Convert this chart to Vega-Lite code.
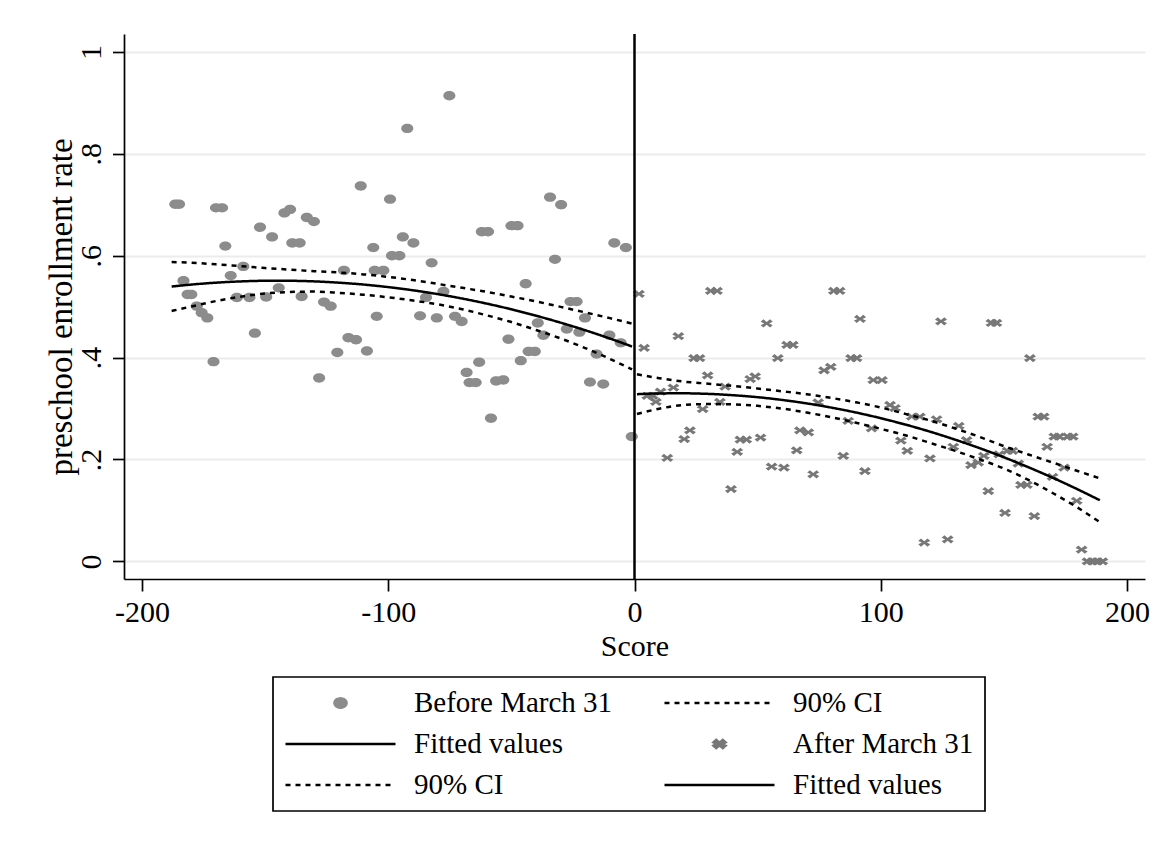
{
  "$schema": "https://vega.github.io/schema/vega-lite/v6.json",
  "autosize": {"type": "none"},
  "padding": {"left": 124, "top": 34, "right": 11, "bottom": 270},
  "width": 1021,
  "height": 545,
  "background": "white",
  "datasets": {
    "pts": [
      {"series":"p1","x":-186.5,"y":0.701},{"series":"p1","x":-185,"y":0.701},
      {"series":"p1","x":-170,"y":0.694},{"series":"p1","x":-167.5,"y":0.694},
      {"series":"p1","x":-111.2,"y":0.737},{"series":"p1","x":-152.1,"y":0.656},
      {"series":"p1","x":-147.2,"y":0.637},{"series":"p1","x":-166.2,"y":0.619},
      {"series":"p1","x":-142.2,"y":0.684},{"series":"p1","x":-139.9,"y":0.691},
      {"series":"p1","x":-133.1,"y":0.675},{"series":"p1","x":-130.2,"y":0.667},
      {"series":"p1","x":-139,"y":0.625},{"series":"p1","x":-136,"y":0.625},
      {"series":"p1","x":-106.1,"y":0.616},{"series":"p1","x":-158.9,"y":0.579},
      {"series":"p1","x":-164,"y":0.561},{"series":"p1","x":-118,"y":0.571},
      {"series":"p1","x":-183.2,"y":0.551},{"series":"p1","x":-181.5,"y":0.524},
      {"series":"p1","x":-180,"y":0.524},{"series":"p1","x":-177.8,"y":0.501},
      {"series":"p1","x":-175.8,"y":0.488},{"series":"p1","x":-173.5,"y":0.478},
      {"series":"p1","x":-161.5,"y":0.518},{"series":"p1","x":-156.4,"y":0.518},
      {"series":"p1","x":-149.6,"y":0.519},{"series":"p1","x":-144.5,"y":0.537},
      {"series":"p1","x":-135.2,"y":0.52},{"series":"p1","x":-126.1,"y":0.509},
      {"series":"p1","x":-123.4,"y":0.501},{"series":"p1","x":-154.2,"y":0.448},
      {"series":"p1","x":-116.2,"y":0.439},{"series":"p1","x":-113.1,"y":0.435},
      {"series":"p1","x":-120.7,"y":0.41},{"series":"p1","x":-108.7,"y":0.413},
      {"series":"p1","x":-104.7,"y":0.481},{"series":"p1","x":-171,"y":0.392},
      {"series":"p1","x":-128.1,"y":0.36},{"series":"p1","x":-105.5,"y":0.571},
      {"series":"p1","x":-75.2,"y":0.914},{"series":"p1","x":-92.3,"y":0.85},
      {"series":"p1","x":-99.3,"y":0.711},{"series":"p1","x":-34.3,"y":0.715},
      {"series":"p1","x":-29.8,"y":0.7},{"series":"p1","x":-50,"y":0.659},
      {"series":"p1","x":-47.5,"y":0.659},{"series":"p1","x":-62,"y":0.647},
      {"series":"p1","x":-59.5,"y":0.647},{"series":"p1","x":-94.1,"y":0.637},
      {"series":"p1","x":-89.8,"y":0.625},{"series":"p1","x":-98.5,"y":0.6},
      {"series":"p1","x":-95.5,"y":0.6},{"series":"p1","x":-8.2,"y":0.625},
      {"series":"p1","x":-3.5,"y":0.616},{"series":"p1","x":-82.4,"y":0.586},
      {"series":"p1","x":-32.3,"y":0.593},{"series":"p1","x":-102,"y":0.571},
      {"series":"p1","x":-44.2,"y":0.545},{"series":"p1","x":-77.6,"y":0.53},
      {"series":"p1","x":-84.7,"y":0.518},{"series":"p1","x":-26,"y":0.51},
      {"series":"p1","x":-23.5,"y":0.51},{"series":"p1","x":-87.1,"y":0.482},
      {"series":"p1","x":-80.3,"y":0.478},{"series":"p1","x":-72.9,"y":0.481},
      {"series":"p1","x":-70.2,"y":0.471},{"series":"p1","x":-20.1,"y":0.478},
      {"series":"p1","x":-39.3,"y":0.468},{"series":"p1","x":-27.5,"y":0.456},
      {"series":"p1","x":-22.4,"y":0.45},{"series":"p1","x":-37,"y":0.444},
      {"series":"p1","x":-10.2,"y":0.444},{"series":"p1","x":-5.6,"y":0.429},
      {"series":"p1","x":-15.4,"y":0.407},{"series":"p1","x":-51.2,"y":0.436},
      {"series":"p1","x":-43,"y":0.412},{"series":"p1","x":-40.5,"y":0.412},
      {"series":"p1","x":-46.2,"y":0.394},{"series":"p1","x":-63.1,"y":0.391},
      {"series":"p1","x":-68.2,"y":0.371},{"series":"p1","x":-67,"y":0.351},
      {"series":"p1","x":-64.5,"y":0.351},{"series":"p1","x":-56.2,"y":0.354},
      {"series":"p1","x":-53.3,"y":0.356},{"series":"p1","x":-18.1,"y":0.352},
      {"series":"p1","x":-12.7,"y":0.348},{"series":"p1","x":-58.3,"y":0.281},
      {"series":"p1","x":-1.1,"y":0.245},
      {"series":"p2","x":1.8,"y":0.525},{"series":"p2","x":31,"y":0.531},
      {"series":"p2","x":33.5,"y":0.531},{"series":"p2","x":81,"y":0.531},
      {"series":"p2","x":83.3,"y":0.531},{"series":"p2","x":53.7,"y":0.467},
      {"series":"p2","x":91.6,"y":0.476},{"series":"p2","x":17.8,"y":0.442},
      {"series":"p2","x":62,"y":0.425},{"series":"p2","x":64.3,"y":0.425},
      {"series":"p2","x":3.9,"y":0.419},{"series":"p2","x":24.2,"y":0.399},
      {"series":"p2","x":26.4,"y":0.399},{"series":"p2","x":58.2,"y":0.399},
      {"series":"p2","x":88,"y":0.399},{"series":"p2","x":90.2,"y":0.399},
      {"series":"p2","x":29.7,"y":0.365},{"series":"p2","x":77,"y":0.375},
      {"series":"p2","x":79.7,"y":0.382},{"series":"p2","x":47,"y":0.358},
      {"series":"p2","x":49,"y":0.363},{"series":"p2","x":97,"y":0.356},
      {"series":"p2","x":100.5,"y":0.356},{"series":"p2","x":15.8,"y":0.341},
      {"series":"p2","x":10.6,"y":0.333},{"series":"p2","x":5.2,"y":0.325},
      {"series":"p2","x":7.4,"y":0.325},{"series":"p2","x":8.7,"y":0.313},
      {"series":"p2","x":36.8,"y":0.343},{"series":"p2","x":34.7,"y":0.313},
      {"series":"p2","x":27.7,"y":0.299},{"series":"p2","x":74.6,"y":0.312},
      {"series":"p2","x":86.8,"y":0.276},{"series":"p2","x":96.3,"y":0.261},
      {"series":"p2","x":22.5,"y":0.257},{"series":"p2","x":20.2,"y":0.24},
      {"series":"p2","x":67.2,"y":0.257},{"series":"p2","x":70.6,"y":0.253},
      {"series":"p2","x":43,"y":0.239},{"series":"p2","x":45.4,"y":0.239},
      {"series":"p2","x":51.2,"y":0.243},{"series":"p2","x":41.7,"y":0.215},
      {"series":"p2","x":65.9,"y":0.218},{"series":"p2","x":13.3,"y":0.203},
      {"series":"p2","x":84.8,"y":0.207},{"series":"p2","x":55.7,"y":0.186},
      {"series":"p2","x":60.7,"y":0.184},{"series":"p2","x":72.6,"y":0.171},
      {"series":"p2","x":93.6,"y":0.177},{"series":"p2","x":39.2,"y":0.142},
      {"series":"p2","x":124.5,"y":0.471},{"series":"p2","x":145,"y":0.468},
      {"series":"p2","x":147,"y":0.468},{"series":"p2","x":160.6,"y":0.399},
      {"series":"p2","x":103.8,"y":0.307},{"series":"p2","x":105.8,"y":0.301},
      {"series":"p2","x":112.6,"y":0.284},{"series":"p2","x":115.9,"y":0.284},
      {"series":"p2","x":122.7,"y":0.279},{"series":"p2","x":108.2,"y":0.237},
      {"series":"p2","x":110.8,"y":0.217},{"series":"p2","x":120,"y":0.202},
      {"series":"p2","x":131.7,"y":0.266},{"series":"p2","x":134.9,"y":0.238},
      {"series":"p2","x":129.5,"y":0.225},{"series":"p2","x":136.7,"y":0.189},
      {"series":"p2","x":139.6,"y":0.194},{"series":"p2","x":141.9,"y":0.207},
      {"series":"p2","x":148.1,"y":0.21},{"series":"p2","x":151.5,"y":0.217},
      {"series":"p2","x":153.5,"y":0.217},{"series":"p2","x":155.9,"y":0.192},
      {"series":"p2","x":157,"y":0.15},{"series":"p2","x":159.4,"y":0.15},
      {"series":"p2","x":143.7,"y":0.138},{"series":"p2","x":150.5,"y":0.095},
      {"series":"p2","x":162.4,"y":0.089},{"series":"p2","x":164,"y":0.284},
      {"series":"p2","x":166.2,"y":0.284},{"series":"p2","x":167.6,"y":0.225},
      {"series":"p2","x":170.5,"y":0.245},{"series":"p2","x":172.5,"y":0.245},
      {"series":"p2","x":176,"y":0.245},{"series":"p2","x":178,"y":0.245},
      {"series":"p2","x":174.5,"y":0.184},{"series":"p2","x":169.8,"y":0.166},
      {"series":"p2","x":179.6,"y":0.119},{"series":"p2","x":181.6,"y":0.023},
      {"series":"p2","x":184,"y":0},{"series":"p2","x":186,"y":0},
      {"series":"p2","x":188,"y":0},{"series":"p2","x":190,"y":0},
      {"series":"p2","x":117.7,"y":0.037},{"series":"p2","x":127.2,"y":0.043}
    ],
    "lines": [
      {"series":"f1","part":"fit","x":-188,"y":0.5395},{"series":"f1","part":"fit","x":-180,"y":0.5434},
      {"series":"f1","part":"fit","x":-170,"y":0.5471},{"series":"f1","part":"fit","x":-160,"y":0.5496},
      {"series":"f1","part":"fit","x":-150,"y":0.5508},{"series":"f1","part":"fit","x":-140,"y":0.5508},
      {"series":"f1","part":"fit","x":-130,"y":0.5496},{"series":"f1","part":"fit","x":-120,"y":0.5471},
      {"series":"f1","part":"fit","x":-110,"y":0.5434},{"series":"f1","part":"fit","x":-100,"y":0.5384},
      {"series":"f1","part":"fit","x":-90,"y":0.5322},{"series":"f1","part":"fit","x":-80,"y":0.5247},
      {"series":"f1","part":"fit","x":-70,"y":0.516},{"series":"f1","part":"fit","x":-60,"y":0.506},
      {"series":"f1","part":"fit","x":-50,"y":0.4948},{"series":"f1","part":"fit","x":-40,"y":0.4823},
      {"series":"f1","part":"fit","x":-30,"y":0.4686},{"series":"f1","part":"fit","x":-20,"y":0.4537},
      {"series":"f1","part":"fit","x":-10,"y":0.4375},{"series":"f1","part":"fit","x":-1,"y":0.4218},
      {"series":"c1","part":"upper","x":-188,"y":0.5875},{"series":"c1","part":"upper","x":-180,"y":0.5864},
      {"series":"c1","part":"upper","x":-170,"y":0.5831},{"series":"c1","part":"upper","x":-160,"y":0.5796},
      {"series":"c1","part":"upper","x":-150,"y":0.5758},{"series":"c1","part":"upper","x":-140,"y":0.5728},
      {"series":"c1","part":"upper","x":-130,"y":0.5696},{"series":"c1","part":"upper","x":-120,"y":0.5671},
      {"series":"c1","part":"upper","x":-110,"y":0.5634},{"series":"c1","part":"upper","x":-100,"y":0.5584},
      {"series":"c1","part":"upper","x":-90,"y":0.5522},{"series":"c1","part":"upper","x":-80,"y":0.5447},
      {"series":"c1","part":"upper","x":-70,"y":0.537},{"series":"c1","part":"upper","x":-60,"y":0.529},
      {"series":"c1","part":"upper","x":-50,"y":0.5198},{"series":"c1","part":"upper","x":-40,"y":0.5103},
      {"series":"c1","part":"upper","x":-30,"y":0.4996},{"series":"c1","part":"upper","x":-20,"y":0.4887},
      {"series":"c1","part":"upper","x":-10,"y":0.4775},{"series":"c1","part":"upper","x":-1,"y":0.4668},
      {"series":"c1","part":"lower","x":-188,"y":0.4915},{"series":"c1","part":"lower","x":-180,"y":0.5004},
      {"series":"c1","part":"lower","x":-170,"y":0.5111},{"series":"c1","part":"lower","x":-160,"y":0.5196},
      {"series":"c1","part":"lower","x":-150,"y":0.5258},{"series":"c1","part":"lower","x":-140,"y":0.5288},
      {"series":"c1","part":"lower","x":-130,"y":0.5296},{"series":"c1","part":"lower","x":-120,"y":0.5271},
      {"series":"c1","part":"lower","x":-110,"y":0.5234},{"series":"c1","part":"lower","x":-100,"y":0.5184},
      {"series":"c1","part":"lower","x":-90,"y":0.5122},{"series":"c1","part":"lower","x":-80,"y":0.5047},
      {"series":"c1","part":"lower","x":-70,"y":0.495},{"series":"c1","part":"lower","x":-60,"y":0.483},
      {"series":"c1","part":"lower","x":-50,"y":0.4698},{"series":"c1","part":"lower","x":-40,"y":0.4543},
      {"series":"c1","part":"lower","x":-30,"y":0.4376},{"series":"c1","part":"lower","x":-20,"y":0.4187},
      {"series":"c1","part":"lower","x":-10,"y":0.3975},{"series":"c1","part":"lower","x":-1,"y":0.3768},
      {"series":"f2","part":"fit","x":1,"y":0.3282},{"series":"f2","part":"fit","x":10,"y":0.3297},
      {"series":"f2","part":"fit","x":20,"y":0.3299},{"series":"f2","part":"fit","x":30,"y":0.3288},
      {"series":"f2","part":"fit","x":40,"y":0.3262},{"series":"f2","part":"fit","x":50,"y":0.3223},
      {"series":"f2","part":"fit","x":60,"y":0.3169},{"series":"f2","part":"fit","x":70,"y":0.3101},
      {"series":"f2","part":"fit","x":80,"y":0.3018},{"series":"f2","part":"fit","x":90,"y":0.2922},
      {"series":"f2","part":"fit","x":100,"y":0.2811},{"series":"f2","part":"fit","x":110,"y":0.2686},
      {"series":"f2","part":"fit","x":120,"y":0.2547},{"series":"f2","part":"fit","x":130,"y":0.2393},
      {"series":"f2","part":"fit","x":140,"y":0.2226},{"series":"f2","part":"fit","x":150,"y":0.2044},
      {"series":"f2","part":"fit","x":160,"y":0.1848},{"series":"f2","part":"fit","x":170,"y":0.1638},
      {"series":"f2","part":"fit","x":180,"y":0.1414},{"series":"f2","part":"fit","x":189,"y":0.12},
      {"series":"c2","part":"upper","x":1,"y":0.3672},{"series":"c2","part":"upper","x":10,"y":0.3597},
      {"series":"c2","part":"upper","x":20,"y":0.3529},{"series":"c2","part":"upper","x":30,"y":0.3488},
      {"series":"c2","part":"upper","x":40,"y":0.3442},{"series":"c2","part":"upper","x":50,"y":0.3393},
      {"series":"c2","part":"upper","x":60,"y":0.3339},{"series":"c2","part":"upper","x":70,"y":0.3281},
      {"series":"c2","part":"upper","x":80,"y":0.3208},{"series":"c2","part":"upper","x":90,"y":0.3122},
      {"series":"c2","part":"upper","x":100,"y":0.3021},{"series":"c2","part":"upper","x":110,"y":0.2896},
      {"series":"c2","part":"upper","x":120,"y":0.2767},{"series":"c2","part":"upper","x":130,"y":0.2613},
      {"series":"c2","part":"upper","x":140,"y":0.2446},{"series":"c2","part":"upper","x":150,"y":0.2264},
      {"series":"c2","part":"upper","x":160,"y":0.2098},{"series":"c2","part":"upper","x":170,"y":0.1938},
      {"series":"c2","part":"upper","x":180,"y":0.1774},{"series":"c2","part":"upper","x":189,"y":0.163},
      {"series":"c2","part":"lower","x":1,"y":0.2892},{"series":"c2","part":"lower","x":10,"y":0.2997},
      {"series":"c2","part":"lower","x":20,"y":0.3069},{"series":"c2","part":"lower","x":30,"y":0.3088},
      {"series":"c2","part":"lower","x":40,"y":0.3082},{"series":"c2","part":"lower","x":50,"y":0.3053},
      {"series":"c2","part":"lower","x":60,"y":0.2999},{"series":"c2","part":"lower","x":70,"y":0.2921},
      {"series":"c2","part":"lower","x":80,"y":0.2828},{"series":"c2","part":"lower","x":90,"y":0.2722},
      {"series":"c2","part":"lower","x":100,"y":0.2601},{"series":"c2","part":"lower","x":110,"y":0.2476},
      {"series":"c2","part":"lower","x":120,"y":0.2327},{"series":"c2","part":"lower","x":130,"y":0.2173},
      {"series":"c2","part":"lower","x":140,"y":0.2006},{"series":"c2","part":"lower","x":150,"y":0.1824},
      {"series":"c2","part":"lower","x":160,"y":0.1598},{"series":"c2","part":"lower","x":170,"y":0.1338},
      {"series":"c2","part":"lower","x":180,"y":0.1054},{"series":"c2","part":"lower","x":189,"y":0.077}
    ]
  },
  "layer": [
    {
      "data": {"name": "pts"},
      "mark": {"type": "point", "filled": true, "size": 12100, "opacity": 1, "strokeWidth": 0},
      "encoding": {
        "x": {"field": "x", "type": "quantitative", "scale": {"domain": [-207.35, 207.35], "nice": false, "zero": false},
          "axis": {"values": [-200, -100, 0, 100, 200], "title": "Score", "labelExpr": "'' + datum.value", "grid": false}},
        "y": {"field": "y", "type": "quantitative", "scale": {"domain": [-0.0346, 1.0353], "nice": false, "zero": false},
          "axis": {"values": [0, 0.2, 0.4, 0.6, 0.8, 1], "title": "preschool enrollment rate", "grid": true,
            "labelExpr": "datum.value == 0 ? '0' : datum.value == 1 ? '1' : '.' + round(datum.value * 10)",
            "labelAngle": -90, "labelAlign": "center", "labelBaseline": "bottom", "tickSize": 11.5,
            "titleFontSize": 33, "titlePadding": -2}},
        "color": {"field": "series", "type": "nominal",
          "scale": {"domain": ["p1","f1","c1","c2","p2","f2"], "range": ["#8c8c8c","#000000","#000000","#000000","#777777","#000000"]},
          "legend": {"orient": "none", "legendX": 149, "legendY": 643, "columns": 2, "title": null,
            "labelExpr": "datum.label == 'p1' ? 'Before March 31' : datum.label == 'p2' ? 'After March 31' : (datum.label == 'c1' || datum.label == 'c2') ? '90% CI' : 'Fitted values'"}},
        "shape": {"field": "series", "type": "nominal",
          "scale": {"domain": ["p1","f1","c1","c2","p2","f2"],
            "range": ["M-0.11,0A0.11,0.085 0 1,0 0.11,0A0.11,0.085 0 1,0 -0.11,0Z", "M-1,0H1", "M-1,0H1", "M-1,0H1",
              "M-0.11,-0.03L-0.06,-0.075L0,-0.025L0.06,-0.075L0.11,-0.03L0.045,0L0.11,0.03L0.06,0.075L0,0.025L-0.06,0.075L-0.11,0.03L-0.045,0Z",
              "M-1,0H1"]}}
      }
    },
    {
      "data": {"name": "lines"},
      "mark": {"type": "line", "strokeWidth": 2.5, "interpolate": "monotone"},
      "encoding": {
        "x": {"field": "x", "type": "quantitative"},
        "y": {"field": "y", "type": "quantitative"},
        "detail": {"field": "part"},
        "color": {"field": "series", "type": "nominal",
          "scale": {"domain": ["p1","f1","c1","c2","p2","f2"], "range": ["#8c8c8c","#000000","#000000","#000000","#777777","#000000"]}},
        "strokeDash": {"field": "series", "type": "nominal",
          "scale": {"domain": ["p1","f1","c1","c2","p2","f2"], "range": [[1,0],[1,0],[5,5],[5,5],[1,0],[1,0]]}}
      }
    },
    {
      "data": {"values": [{"x": 0}]},
      "mark": {"type": "rule", "color": "black", "strokeWidth": 2.5},
      "encoding": {"x": {"field": "x", "type": "quantitative"}}
    }
  ],
  "config": {
    "font": "Liberation Serif",
    "view": {"stroke": null},
    "axis": {
      "domainColor": "black", "domainWidth": 1.7, "tickColor": "black", "tickWidth": 1.7, "tickSize": 12,
      "labelFont": "Liberation Serif", "labelFontSize": 30, "labelColor": "black", "labelPadding": 6,
      "labelFlush": false, "labelOverlap": false,
      "titleFont": "Liberation Serif", "titleFontSize": 30, "titleFontWeight": "normal", "titleColor": "black", "titlePadding": 4,
      "gridColor": "#ececec", "gridWidth": 2
    },
    "legend": {
      "symbolSize": 12100, "clipHeight": 30, "rowPadding": 11, "columnPadding": 50, "labelOffset": 17,
      "padding": 11, "strokeColor": "black", "strokeWidth": 1.7, "labelFont": "Liberation Serif",
      "labelFontSize": 29, "labelColor": "black", "labelLimit": 0, "symbolStrokeWidth": 2.5, "symbolOpacity": 1
    }
  }
}
